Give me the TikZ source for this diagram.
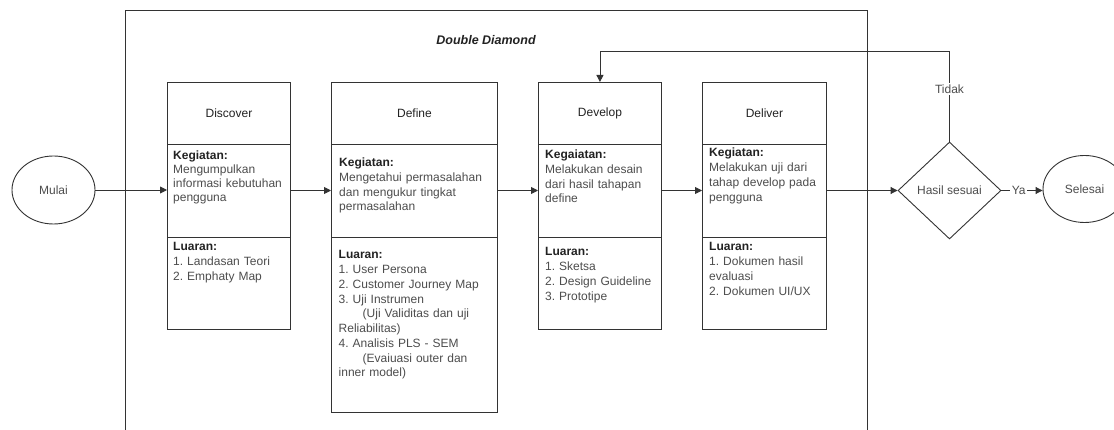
\documentclass[tikz,border=0pt]{standalone}
\usepackage{fontspec}
\setmainfont{Liberation Sans}
\usetikzlibrary{shapes.geometric,arrows.meta,calc}
\definecolor{ln}{HTML}{333333}
\definecolor{tx}{HTML}{4D4D4D}
\definecolor{hd}{HTML}{222222}
\newcommand{\hdr}[1]{\textcolor{hd}{\textbf{#1}}}
\frenchspacing
\begin{document}
\begin{tikzpicture}[x=1pt,y=-1pt,
  font=\fontsize{12}{14.5}\selectfont,
  secbox/.style={draw=ln,line width=0.9pt,inner sep=0pt,anchor=north west,text=hd},
  txtblk/.style={inner sep=0pt,anchor=base west,align=left,text=tx},
  term/.style={draw=ln,line width=0.9pt,ellipse,inner sep=0pt,minimum width=83pt,minimum height=68pt,text=tx},
  decide/.style={draw=ln,line width=0.9pt,diamond,inner sep=0pt,minimum width=103pt,minimum height=97pt,text=tx},
  arr/.style={draw=ln,line width=0.9pt,-{Triangle[length=7pt,width=7pt]}},
  plain/.style={draw=ln,line width=0.9pt},
  lbl/.style={fill=white,inner sep=1.5pt,text=tx}]
\useasboundingbox (0,0) rectangle (1114,430);
\fill[white] (0,0) rectangle (1114,430);

% frame
\node[secbox,minimum width=741.5pt,minimum height=440pt] (frame) at (125,10) {};
\node[font=\bfseries\itshape\fontsize{12.5}{14}\selectfont,text=hd] (ddtitle) at (486,40) {Double Diamond};

% Discover
\node[secbox,minimum width=123pt,minimum height=62pt] (disc-t) at (167,82) {Discover};
\node[secbox,minimum width=123pt,minimum height=93pt] (disc-k) at (167,144) {};
\node[secbox,minimum width=123pt,minimum height=92pt] (disc-l) at (167,237) {};
\node[txtblk,text width=115pt,font=\fontsize{12}{14}\selectfont] (disc-kx) at (173,160) {\hdr{Kegiatan:}\\Mengumpulkan\\informasi kebutuhan\\pengguna};
\node[txtblk,text width=115pt,font=\fontsize{12}{15}\selectfont] (disc-lx) at (173,251) {\hdr{Luaran:}\\1. Landasan Teori\\2. Emphaty Map};

% Define
\node[secbox,minimum width=166pt,minimum height=62pt] (def-t) at (331,82) {Define};
\node[secbox,minimum width=166pt,minimum height=93pt] (def-k) at (331,144) {};
\node[secbox,minimum width=166pt,minimum height=175pt] (def-l) at (331,237) {};
\node[txtblk,text width=156pt,font=\fontsize{12}{14.6}\selectfont] (def-kx) at (339,167) {\hdr{Kegiatan:}\\Mengetahui permasalahan\\dan mengukur tingkat\\permasalahan};
\node[txtblk,text width=156pt,font=\fontsize{12}{14.75}\selectfont] (def-lx) at (338.5,259) {\hdr{Luaran:}\\1. User Persona\\2. Customer Journey Map\\3. Uji Instrumen\\\hspace*{24pt}(Uji Validitas dan uji\\Reliabilitas)\\4. Analisis PLS - SEM\\\hspace*{24pt}(Evaiuasi outer dan\\inner model)};

% Develop
\node[secbox,minimum width=123pt,minimum height=62pt] (dev-t) at (538,82) {Develop};
\node[secbox,minimum width=123pt,minimum height=93pt] (dev-k) at (538,144) {};
\node[secbox,minimum width=123pt,minimum height=92pt] (dev-l) at (538,237) {};
\node[txtblk,text width=115pt,font=\fontsize{12}{14.6}\selectfont] (dev-kx) at (545,159) {\hdr{Kegaiatan:}\\Melakukan desain\\dari hasil tahapan\\define};
\node[txtblk,text width=115pt,font=\fontsize{12}{15}\selectfont] (dev-lx) at (545,256) {\hdr{Luaran:}\\1. Sketsa\\2. Design Guideline\\3. Prototipe};

% Deliver
\node[secbox,minimum width=124pt,minimum height=62pt] (del-t) at (702,82) {Deliver};
\node[secbox,minimum width=124pt,minimum height=93pt] (del-k) at (702,144) {};
\node[secbox,minimum width=124pt,minimum height=92pt] (del-l) at (702,237) {};
\node[txtblk,text width=116pt,font=\fontsize{12}{14.7}\selectfont] (del-kx) at (709,157) {\hdr{Kegiatan:}\\Melakukan uji dari\\tahap develop pada\\pengguna};
\node[txtblk,text width=116pt,font=\fontsize{12}{15}\selectfont] (del-lx) at (709,251) {\hdr{Luaran:}\\1. Dokumen hasil\\evaluasi\\2. Dokumen UI/UX};

% terminals and decision
\node[term] (mulai) at (53.5,190) {Mulai};
\node[decide] (dia) at (949.5,190.5) {Hasil sesuai};
\node[term,minimum height=67pt] (sel) at (1084.5,189) {Selesai};
\coordinate (fb) at (949.5,51);

% connectors
\draw[arr] (mulai.east) -- (mulai.east -| disc-k.west);
\draw[arr] (disc-k.east |- 0,190.5) -- (def-k.west |- 0,190.5);
\draw[arr] (def-k.east |- 0,190.5) -- (dev-k.west |- 0,190.5);
\draw[arr] (dev-k.east |- 0,190.5) -- (del-k.west |- 0,190.5);
\draw[arr] (del-k.east |- dia.west) -- (dia.west);
\draw[arr] (dia.east) -- node[lbl,pos=0.42] {Ya} (dia.east -| sel.west);
\draw[plain] (dia.north) -- node[lbl,pos=0.58] {Tidak} (fb);
\draw[arr] (fb) -| (dev-t.north);
\end{tikzpicture}
\end{document}
